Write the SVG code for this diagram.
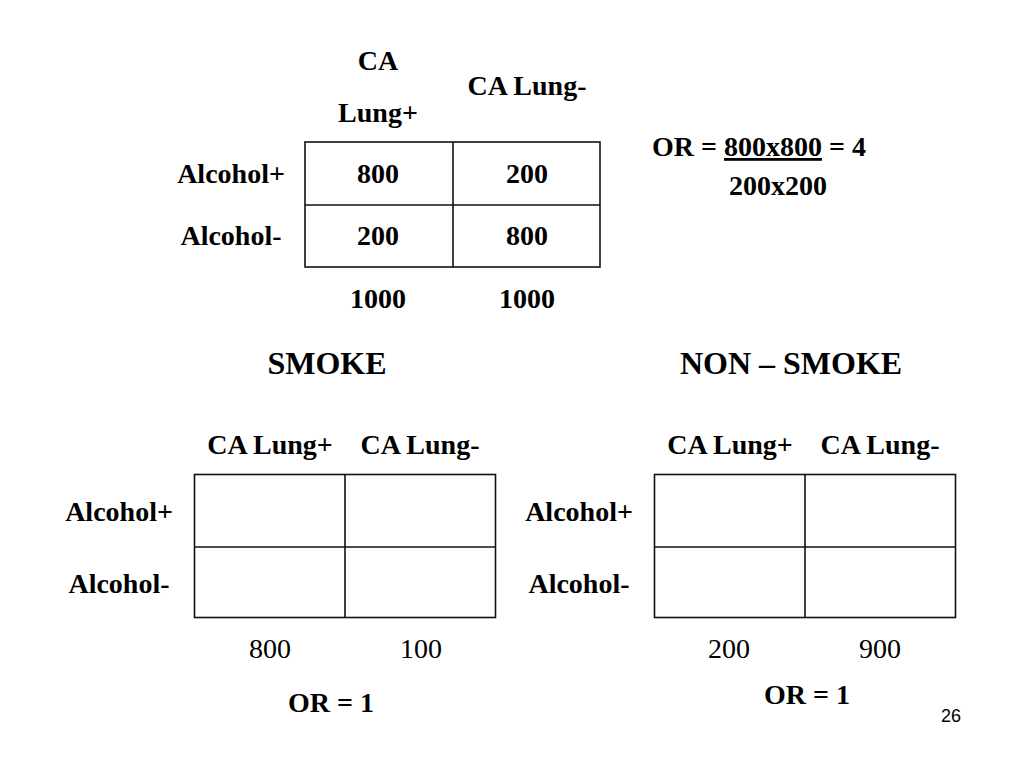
<svg xmlns="http://www.w3.org/2000/svg" width="1024" height="768" viewBox="0 0 1024 768">
<style>
.b{font-family:"Liberation Serif","Times New Roman",serif;font-weight:bold;font-size:28px;fill:#000;text-anchor:middle}
.r{font-family:"Liberation Serif","Times New Roman",serif;font-size:28px;fill:#000;text-anchor:middle}
.h{font-family:"Liberation Serif","Times New Roman",serif;font-weight:bold;font-size:32px;fill:#000;text-anchor:middle}
.g{fill:none;stroke:#111;stroke-width:1.6}
</style>
<rect width="1024" height="768" fill="#fff"/>
<g id="table-top">
<rect class="g" x="305" y="142" width="295" height="125"/>
<line class="g" x1="453" y1="142" x2="453" y2="267"/>
<line class="g" x1="305" y1="205" x2="600" y2="205"/>
<text class="b" x="378" y="70">CA</text>
<text class="b" x="378" y="122">Lung+</text>
<text class="b" x="527" y="95">CA Lung-</text>
<text class="b" x="231" y="183">Alcohol+</text>
<text class="b" x="231" y="245">Alcohol-</text>
<text class="b" x="378" y="183">800</text>
<text class="b" x="527" y="183">200</text>
<text class="b" x="378" y="245">200</text>
<text class="b" x="527" y="245">800</text>
<text class="b" x="378" y="308">1000</text>
<text class="b" x="527" y="308">1000</text>
</g>
<g id="or-top">
<text class="b" x="652" y="156" style="text-anchor:start">OR = <tspan text-decoration="underline">800x800</tspan> = 4</text>
<text class="b" x="778" y="195">200x200</text>
</g>
<text class="h" x="327" y="374">SMOKE</text>
<text class="h" x="791" y="374">NON – SMOKE</text>
<g id="table-smoke">
<rect class="g" x="194.5" y="474.5" width="301" height="143"/>
<line class="g" x1="345" y1="474.5" x2="345" y2="617.5"/>
<line class="g" x1="194.5" y1="547" x2="495.5" y2="547"/>
<text class="b" x="270" y="454">CA Lung+</text>
<text class="b" x="420" y="454">CA Lung-</text>
<text class="b" x="119" y="521">Alcohol+</text>
<text class="b" x="119" y="593">Alcohol-</text>
<text class="r" x="270" y="658">800</text>
<text class="r" x="421" y="658">100</text>
<text class="b" x="331" y="712">OR = 1</text>
</g>
<g id="table-nonsmoke">
<rect class="g" x="654.5" y="474.5" width="301" height="143"/>
<line class="g" x1="805" y1="474.5" x2="805" y2="617.5"/>
<line class="g" x1="654.5" y1="547" x2="955.5" y2="547"/>
<text class="b" x="730" y="454">CA Lung+</text>
<text class="b" x="880" y="454">CA Lung-</text>
<text class="b" x="579" y="521">Alcohol+</text>
<text class="b" x="579" y="593">Alcohol-</text>
<text class="r" x="729" y="658">200</text>
<text class="r" x="880" y="658">900</text>
<text class="b" x="807" y="704">OR = 1</text>
</g>
<text x="951" y="722" style="font-family:'Liberation Sans',Arial,sans-serif;font-size:18px;fill:#000;text-anchor:middle">26</text>
</svg>
